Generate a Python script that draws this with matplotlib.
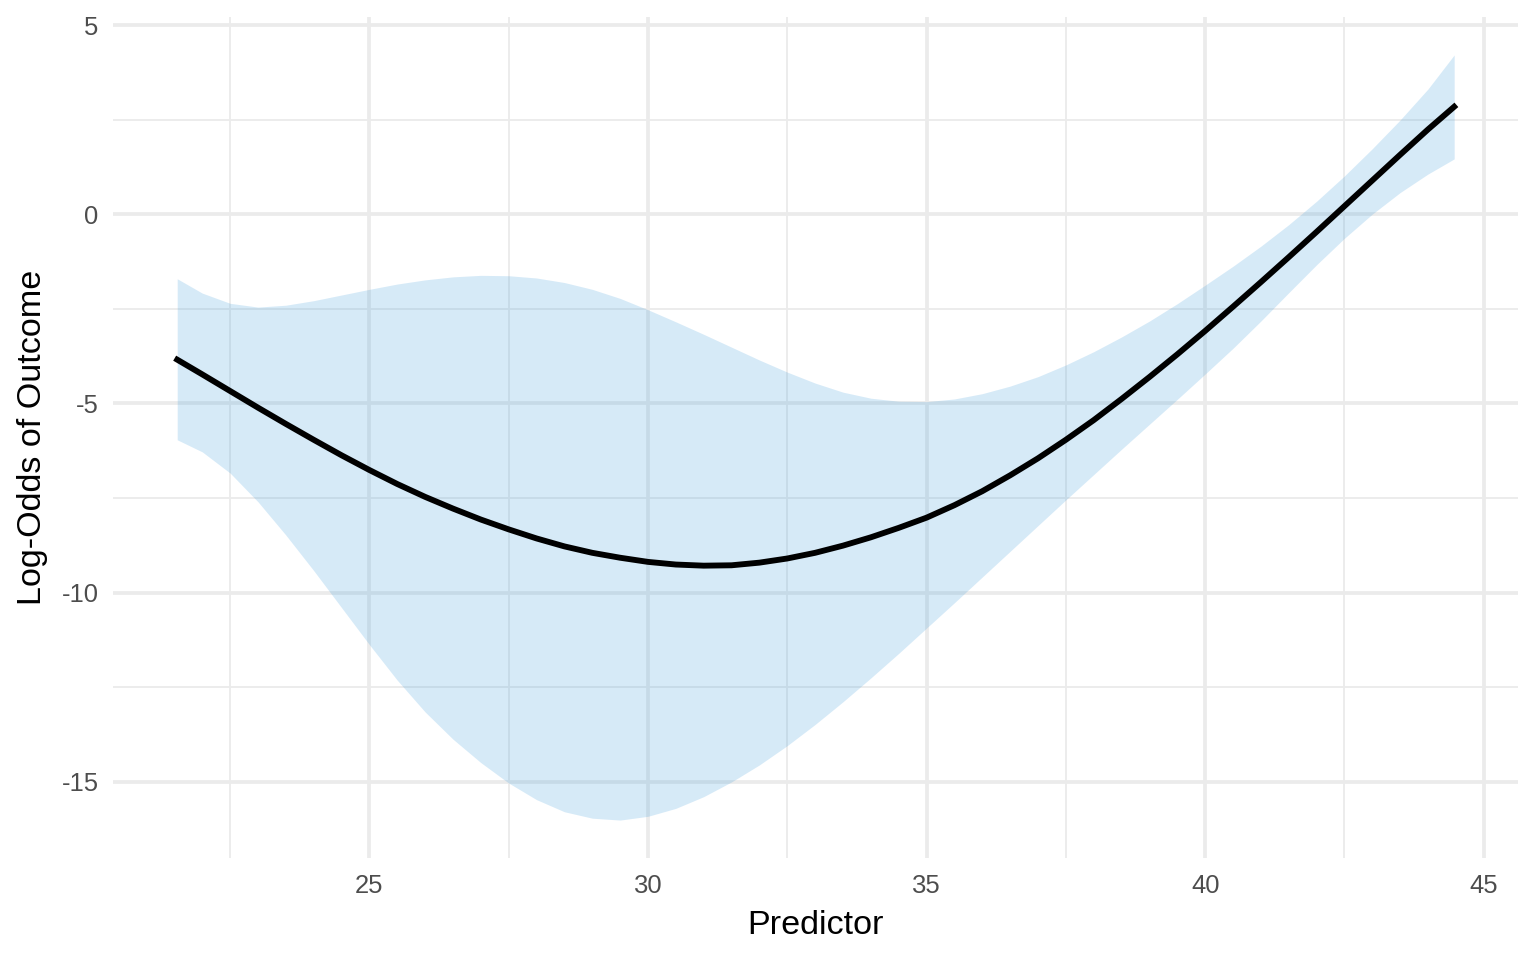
import numpy as np
import matplotlib
matplotlib.use("Agg")
import matplotlib.pyplot as plt
from matplotlib.ticker import MultipleLocator

plt.rcParams['font.family'] = ['Liberation Sans', 'DejaVu Sans']

# valores (paso de 0.5)
predictor = [21.55, 22, 22.5, 23, 23.5, 24, 24.5, 25, 25.5, 26, 26.5, 27, 27.5,
             28, 28.5, 29, 29.5, 30, 30.5, 31, 31.5, 32, 32.5, 33, 33.5, 34,
             34.5, 35, 35.5, 36, 36.5, 37, 37.5, 38, 38.5, 39, 39.5, 40, 40.5,
             41, 41.5, 42, 42.5, 43, 43.5, 44, 44.47]
log_odds = [-3.84, -4.23, -4.67, -5.11, -5.54, -5.96, -6.37, -6.76, -7.13, -7.47,
            -7.78, -8.07, -8.33, -8.57, -8.78, -8.95, -9.08, -9.19, -9.26, -9.29,
            -9.28, -9.21, -9.10, -8.95, -8.76, -8.54, -8.29, -8.02, -7.69, -7.32,
            -6.90, -6.45, -5.96, -5.44, -4.88, -4.30, -3.70, -3.08, -2.44, -1.79,
            -1.13, -0.46, 0.22, 0.90, 1.58, 2.25, 2.85]
upper = [-1.70, -2.08, -2.35, -2.45, -2.40, -2.28, -2.13, -1.98, -1.84, -1.73,
         -1.65, -1.61, -1.62, -1.68, -1.80, -1.98, -2.22, -2.52, -2.84, -3.17,
         -3.51, -3.85, -4.17, -4.46, -4.70, -4.86, -4.94, -4.95, -4.88, -4.74,
         -4.54, -4.29, -3.98, -3.63, -3.24, -2.82, -2.36, -1.87, -1.37, -0.84,
         -0.27, 0.35, 1.02, 1.74, 2.50, 3.32, 4.22]
lower = [-5.96, -6.28, -6.84, -7.60, -8.48, -9.42, -10.40, -11.38, -12.32, -13.16,
         -13.88, -14.50, -15.04, -15.48, -15.80, -15.97, -16.02, -15.92, -15.71, -15.40,
         -15.01, -14.56, -14.05, -13.49, -12.89, -12.26, -11.61, -10.94, -10.27, -9.59,
         -8.91, -8.23, -7.55, -6.88, -6.21, -5.55, -4.89, -4.22, -3.54, -2.82,
         -2.07, -1.33, -0.63, 0.01, 0.58, 1.07, 1.47]

fig = plt.figure(figsize=(8, 5), dpi=192)
ax = fig.add_axes([0.0738, 0.1059, 0.9145, 0.8767])

ax.fill_between(predictor, lower, upper, color='#3498db', alpha=0.2,
                linewidth=0, zorder=2)
ax.plot(predictor, log_odds, color='black', linewidth=2.2, zorder=3,
        solid_joinstyle='round')

# limites con expansion del 5%
xr = max(predictor) - min(predictor)
ax.set_xlim(min(predictor) - 0.05 * xr, max(predictor) + 0.05 * xr)
ymin, ymax = min(lower), max(upper)
yr = ymax - ymin
ax.set_ylim(ymin - 0.05 * yr, ymax + 0.05 * yr)

ax.xaxis.set_major_locator(MultipleLocator(5))
ax.xaxis.set_minor_locator(MultipleLocator(2.5))
ax.yaxis.set_major_locator(MultipleLocator(5))
ax.yaxis.set_minor_locator(MultipleLocator(2.5))
ax.grid(which='major', color='#EBEBEB', linewidth=1.42, zorder=0)
ax.grid(which='minor', color='#EBEBEB', linewidth=0.71, zorder=0)
ax.set_axisbelow(True)

for s in ax.spines.values():
    s.set_visible(False)
ax.tick_params(which='both', length=0, labelsize=9.6, labelcolor='#4D4D4D')
ax.tick_params(axis='x', pad=6)
ax.tick_params(axis='y', pad=5.5)
ax.set_yticklabels([f"{int(v)}" for v in ax.get_yticks()])

ax.set_xlabel('Predictor', fontsize=12.8, labelpad=4.5)
ax.set_ylabel('Log-Odds of Outcome', fontsize=12.8, labelpad=5)

fig.savefig('out.png', dpi=192)
